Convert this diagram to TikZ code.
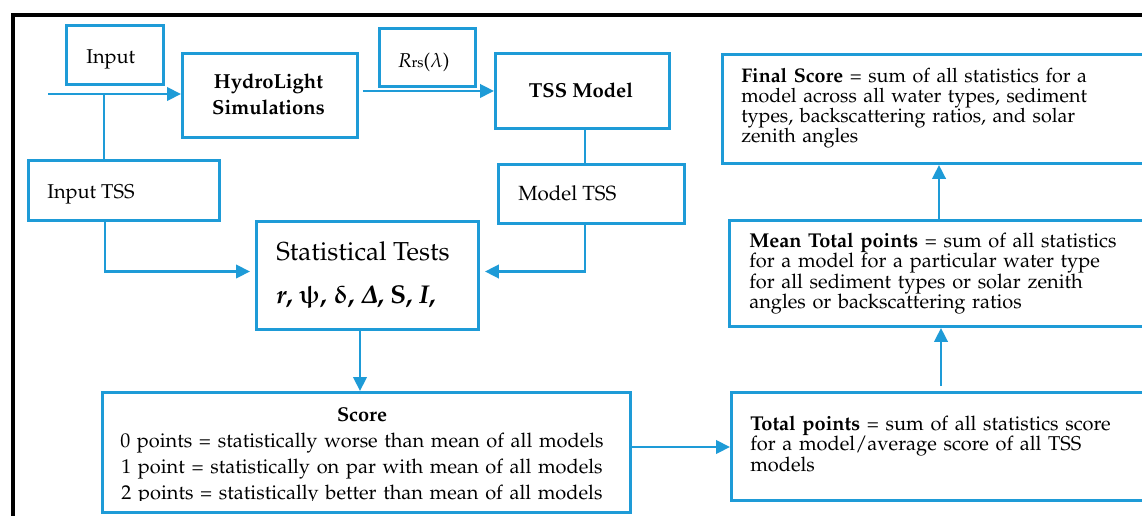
\documentclass[tikz,border=0pt]{standalone}
\usepackage[T1]{fontenc}
\usepackage[slantedGreek]{mathpazo}
\usepackage{bm}
\usepackage{upgreek}
\usetikzlibrary{arrows.meta}
\definecolor{flowblue}{RGB}{30,155,215}
\newdimen\pxu \pxu=0.75pt
\begin{document}
\begin{tikzpicture}[x=0.75pt,y=-0.75pt,
  box/.style={draw=flowblue, line width=2.2pt, rectangle, inner sep=0pt, anchor=north west},
  conn/.style={draw=flowblue, line width=2.2pt},
  arr/.style={conn, -{Triangle[length=10.5pt,width=10pt]}},
  txt/.style={inner sep=0pt, anchor=base west, font=\fontsize{15}{15.3}\selectfont},
  para/.style={txt, align=left, text width=430\pxu},
]
\useasboundingbox (0,0) rectangle (1142,515);
\clip (0,0) rectangle (1142,515);
\fill[white] (0,0) rectangle (1142,515);

% outer frame
\draw[line width=3pt] (12.5,540) -- (12.5,15) -- (1170,15);

% boxes
\node[box, minimum width=97\pxu,  minimum height=59\pxu]  (input)    at (65,24)   {};
\node[box, minimum width=175\pxu, minimum height=84\pxu]  (hydro)    at (181,52)  {};
\node[box, minimum width=96\pxu,  minimum height=58\pxu]  (rrs)      at (378,27)  {};
\node[box, minimum width=174\pxu, minimum height=75\pxu]  (tss)      at (494,52)  {};
\node[box, minimum width=191\pxu, minimum height=60\pxu]  (inputtss) at (27,159)  {};
\node[box, minimum width=186\pxu, minimum height=59\pxu]  (modeltss) at (497,163) {};
\node[box, minimum width=222\pxu, minimum height=108\pxu] (stat)     at (255,220) {};
\node[box, minimum width=528\pxu, minimum height=120\pxu] (score)    at (101,391) {};
\node[box, minimum width=450\pxu, minimum height=108\pxu] (total)    at (730,391) {};
\node[box, minimum width=450\pxu, minimum height=106\pxu] (mean)     at (728,219) {};
\node[box, minimum width=450\pxu, minimum height=109\pxu] (final)    at (721,53)  {};

% texts
\node[txt] (tinput) at (86,63) {Input};
\node[txt, anchor=base, align=center, text width=170\pxu,
      font=\fontsize{15.2}{19.5}\selectfont\bfseries] (thydro) at (268.5,88) {HydroLight\\Simulations};
\node[txt] (trrs) at (398,67) {\textit{R}{\fontsize{11}{12}\selectfont rs}($\lambda$)};
\node[txt, anchor=base, font=\fontsize{15.2}{15.3}\selectfont\bfseries] (ttss) at (581,97) {TSS Model};
\node[txt] (tinputtss) at (47,198) {Input TSS};
\node[txt, font=\fontsize{15.4}{15.5}\selectfont] (tmodeltss) at (518,200) {Model TSS};
\node[txt, font=\fontsize{19.5}{20}\selectfont] (tstat) at (276,260) {Statistical Tests};
\node[txt, font=\fontsize{19.3}{20}\selectfont\bfseries] (tstatsym) at (276,303)
  {\textit{r}, $\bm{\uppsi}$, $\bm{\updelta}$, $\bm{\Delta}$, S, \textit{I},};

\node[para, font=\fontsize{14.8}{15.2}\selectfont] (tfinal) at (741,82) {\textbf{Final Score} = sum of all statistics for a\\
  model across all water types, sediment\\
  types, backscattering ratios, and solar\\
  zenith angles};
\node[para, font=\fontsize{15}{15.4}\selectfont] (tmean) at (749,247) {\textbf{Mean Total points} = sum of all statistics\\
  for a model for a particular water type\\
  for all sediment types or solar zenith\\
  angles or backscattering ratios};
\node[para, font=\fontsize{15}{15.4}\selectfont] (ttotal) at (750,430) {\textbf{Total points} = sum of all statistics score\\
  for a model/average score of all TSS\\
  models};

\begin{scope}
  \clip (101,391) rectangle (629,500.5);
  \node[txt, anchor=base, align=center, text width=520\pxu,
        font=\fontsize{15}{19.5}\selectfont] (tscore) at (362,421.7)
    {\textbf{Score}\\
     0 points = statistically worse than mean of all models\\
     1 point = statistically on par with mean of all models\\
     2 points = statistically better than mean of all models};
\end{scope}

% connectors
\coordinate (feed)  at (48,94);
\coordinate (split) at (104,94);
\coordinate (itap)  at (105,0);
\coordinate (mtap)  at (585,0);
\coordinate (stap)  at (360,0);
\coordinate (ttap)  at (941,0);
\coordinate (ftap)  at (939,0);
\coordinate (statlevel)  at (0,271.5);
\coordinate (scorelevel) at (0,447);

\draw[arr] (feed) -- (feed -| hydro.west);
\draw[conn] (split) -- (split |- inputtss.north);
\draw[arr, shorten <=4\pxu] (hydro.east |- tss.west) -- (tss.west);
\draw[conn] (tss.south -| mtap) -- (modeltss.north -| mtap);
\draw[arr, shorten >=5\pxu] (modeltss.south -| mtap) |- (stat.east |- statlevel);
\draw[arr, shorten >=5\pxu] (inputtss.south -| itap) |- (stat.west |- statlevel);
\draw[arr] (stat.south -| stap) -- (score.north -| stap);
\draw[arr] (score.east |- scorelevel) -- (total.west |- scorelevel);
\draw[arr, shorten <=5\pxu] (total.north -| ttap) -- (mean.south -| ttap);
\draw[arr] (mean.north -| ftap) -- (final.south -| ftap);
\end{tikzpicture}
\end{document}
